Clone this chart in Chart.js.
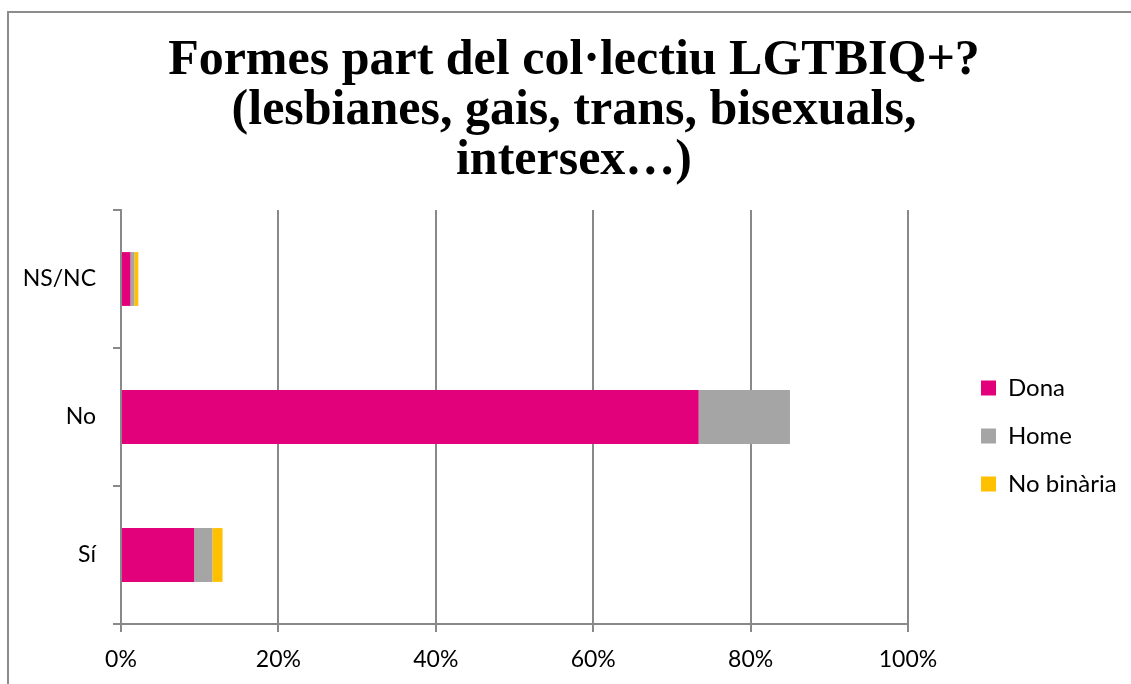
<!DOCTYPE html>
<html lang="ca">
<head>
<meta charset="utf-8">
<title>Formes part del col·lectiu LGTBIQ+?</title>
<script src="https://cdn.jsdelivr.net/npm/chart.js@4.4.1/dist/chart.umd.min.js"></script>
<style>
    html, body { margin: 0; padding: 0; background: #fff; overflow: hidden; width: 1131px; height: 684px; }
    #marc { position: absolute; left: 7px; top: 11px; width: 1200px; height: 700px;
            border-left: 2px solid #8c8c8c; border-top: 2px solid #8c8c8c; }
    #grafic { position: absolute; left: 8px; top: 12px; }
</style>
</head>
<body>
<div id="marc"></div>
<canvas id="grafic" width="1132" height="672"></canvas>
<script>
// respostes en percentatge, per gènere
const categories = ['NS/NC', 'No', 'Sí'];
const dona = [1.2, 73.4, 9.3];
const home = [0.5, 11.6, 2.3];
const noBinaria = [0.5, 0, 1.3];
const xTicks = [0, 20, 40, 60, 80, 100];
const titol = ['Formes part del col·lectiu LGTBIQ+?', '(lesbianes, gais, trans, bisexuals,', 'intersex…)'];

const gris = '#898989';

document.addEventListener('DOMContentLoaded', function () {

    // amplada fixa de la llegenda, perquè quedi a la dreta del gràfic
    const llegendaFixa = {
        id: 'llegendaFixa',
        beforeInit(chart) {
            const fit = chart.legend.fit;
            chart.legend.fit = function () {
                fit.call(this);
                this.width = 183;
            };
        }
    };

    const data = {
        labels: categories,
        datasets: [
            { label: 'Dona', data: dona, backgroundColor: '#e3007b' },
            { label: 'Home', data: home, backgroundColor: '#a5a5a5' },
            { label: 'No binària', data: noBinaria, backgroundColor: '#ffc000' }
        ]
    };

    const config = {
        type: 'bar',
        data: data,
        options: {
            indexAxis: 'y',
            responsive: false,
            animation: false,
            layout: { padding: 0 },
            datasets: { bar: { categoryPercentage: 1, barPercentage: 0.39 } },
            scales: {
                x: {
                    stacked: true,
                    min: 0,
                    max: 100,
                    afterBuildTicks: scale => { scale.ticks = xTicks.map(v => ({ value: v })); },
                    afterFit: scale => { scale.height = 60; },
                    grid: { color: gris, lineWidth: 2, tickLength: 8 },
                    border: { color: gris, width: 2 },
                    ticks: {
                        padding: 14,
                        color: '#000',
                        font: { family: 'Lato', size: 23 },
                        callback: v => v + '%'
                    }
                },
                y: {
                    stacked: true,
                    afterFit: scale => { scale.width = 113; },
                    grid: { drawOnChartArea: false, color: gris, lineWidth: 2, tickLength: 8, offset: true },
                    border: { color: gris, width: 2 },
                    ticks: {
                        padding: 17,
                        color: '#000',
                        font: { family: 'Lato', size: 23 }
                    }
                },
                // espai buit entre el gràfic i la llegenda
                espai: {
                    position: 'right',
                    display: true,
                    afterFit: scale => { scale.width = 49; },
                    grid: { display: false },
                    border: { display: false },
                    ticks: { display: false }
                }
            },
            plugins: {
                title: {
                    display: true,
                    text: titol,
                    color: '#000',
                    font: { family: 'Liberation Serif', size: 50, weight: 'bold', lineHeight: 1 },
                    padding: { top: 24, bottom: 24 }
                },
                legend: {
                    position: 'right',
                    title: { display: true, text: '', font: { size: 10, lineHeight: 1.2 }, padding: { top: 164, bottom: 0 } },
                    labels: {
                        boxWidth: 15,
                        boxHeight: 15,
                        padding: 24,
                        color: '#000',
                        font: { family: 'Lato', size: 24 }
                    }
                },
                tooltip: { enabled: false }
            }
        },
        plugins: [llegendaFixa]
    };

    new Chart(document.getElementById('grafic'), config);
});
</script>
</body>
</html>
